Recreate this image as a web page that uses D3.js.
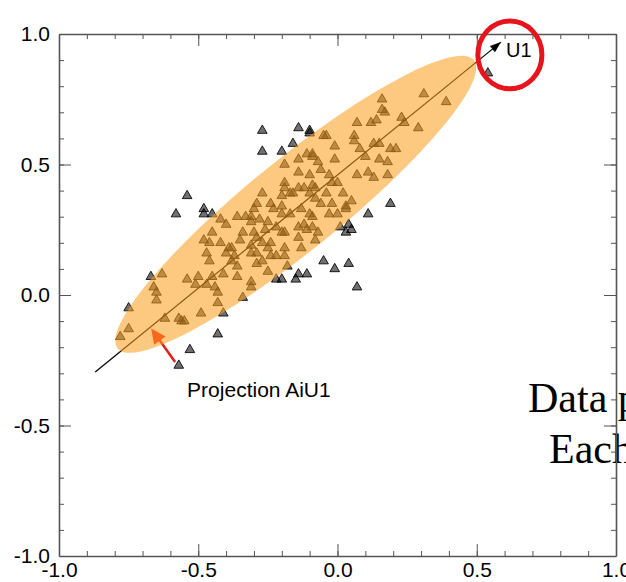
<!DOCTYPE html>
<html>
<head>
<meta charset="utf-8">
<script src="https://cdn.jsdelivr.net/npm/d3@7"></script>
<style>
  body { margin: 0; background: #fff; }
  svg { display: block; }
</style>
</head>
<body>
<div id="chart"></div>
<script>
// sample points (x, y)
const pointX = [
  -0.54, -0.58, -0.48, -0.45, -0.48, -0.42, -0.40, -0.36, -0.33, -0.31,
  -0.31, -0.30, -0.45, -0.34, -0.30, -0.48, -0.46, -0.42, -0.39, -0.38,
  -0.35, -0.31, -0.47, -0.40, -0.37, -0.31, -0.46, -0.38, -0.36, -0.41,
  -0.31, -0.67, -0.63, -0.54, -0.50, -0.45, -0.36, -0.66, -0.51, -0.47,
  -0.44, -0.29, -0.27, -0.25, -0.22, -0.20, -0.15, -0.14, -0.18, -0.65,
  -0.65, -0.75, -0.75, -0.78, -0.62, -0.57, -0.56, -0.55, -0.49, -0.43,
  -0.43, -0.31, -0.34, -0.41, -0.43, -0.53, -0.57, -0.27, -0.14, -0.10,
  -0.27, -0.20, 0.19, 0.11, 0.04, 0.01, 0.03, 0.05, -0.05, 0.31,
  0.39, 0.16, 0.16, 0.17, 0.14, 0.12, 0.07, 0.23, 0.24, 0.29,
  0.06, 0.06, -0.05, -0.04, -0.10, -0.16, -0.01, 0.08, 0.13, 0.15,
  0.19, 0.21, -0.11, -0.09, -0.09, -0.14, -0.01, 0.10, 0.15, 0.18,
  -0.19, -0.07, -0.06, -0.14, -0.10, -0.03, 0.07, 0.11, 0.13, 0.18,
  -0.19, -0.19, -0.14, -0.12, -0.09, -0.08, -0.02, 0.00, -0.27, -0.24,
  -0.29, -0.20, -0.17, -0.16, -0.10, -0.04, 0.02, -0.08, -0.06, -0.02,
  0.03, 0.03, 0.05, -0.03, 0.00, -0.13, -0.10, -0.09, -0.17, -0.23,
  -0.28, -0.25, -0.14, -0.12, -0.11, -0.09, -0.07, -0.22, -0.20, -0.19,
  -0.29, -0.26, -0.14, -0.08, -0.25, -0.19, -0.13, -0.29, -0.22, -0.24,
  -0.27, -0.24, -0.19, -0.20, -0.20, -0.11, -0.01, 0.04, 0.07, 0.54
]
const pointY = [
  0.38, 0.31, 0.33, 0.31, 0.31, 0.29, 0.27, 0.30, 0.30, 0.30,
  0.28, 0.33, 0.24, 0.24, 0.24, 0.21, 0.20, 0.20, 0.18, 0.18,
  0.21, 0.19, 0.16, 0.16, 0.15, 0.16, 0.13, 0.13, 0.11, 0.08,
  0.05, 0.07, 0.08, 0.06, 0.07, 0.07, 0.07, 0.03, 0.04, 0.04,
  0.03, 0.12, 0.13, 0.09, 0.06, 0.06, 0.06, 0.08, 0.11, 0.01,
  -0.02, -0.05, -0.13, -0.16, -0.09, -0.09, -0.10, -0.10, -0.07, 0.01,
  -0.03, 0.03, -0.01, -0.07, -0.15, -0.21, -0.27, 0.63, 0.64, 0.63,
  0.55, 0.55, 0.35, 0.31, 0.27, 0.26, 0.24, 0.25, 0.13, 0.77,
  0.74, 0.75, 0.71, 0.70, 0.67, 0.66, 0.66, 0.68, 0.66, 0.64,
  0.61, 0.59, 0.61, 0.61, 0.62, 0.58, 0.57, 0.56, 0.58, 0.58,
  0.56, 0.56, 0.54, 0.54, 0.53, 0.52, 0.52, 0.53, 0.52, 0.51,
  0.50, 0.51, 0.48, 0.47, 0.46, 0.46, 0.46, 0.47, 0.45, 0.46,
  0.43, 0.41, 0.41, 0.41, 0.42, 0.41, 0.43, 0.43, 0.39, 0.35,
  0.35, 0.34, 0.39, 0.39, 0.39, 0.39, 0.39, 0.37, 0.35, 0.35,
  0.34, 0.33, 0.36, 0.31, 0.31, 0.33, 0.31, 0.30, 0.31, 0.33,
  0.29, 0.28, 0.26, 0.27, 0.25, 0.26, 0.24, 0.26, 0.24, 0.24,
  0.22, 0.25, 0.22, 0.21, 0.18, 0.18, 0.18, 0.16, 0.15, 0.20,
  0.20, 0.15, 0.15, 0.38, 0.31, 0.08, 0.10, 0.12, 0.03, 0.85
]

const majorTicks = [-1.0, -0.5, 0.0, 0.5, 1.0]
const minorTicks = d3.range(-10, 11).map(d => d / 10)

// first principal direction: start and arrow tip
const u1Line = [[-0.87, -0.295], [0.587, 0.969]]
// ends of the ellipse's long axis, and short/long ratio
const ellipseEnds = [[-0.79, -0.205], [0.49, 0.9]]
const ellipseRatio = 0.2
// red arrow: tail (at the sample) and tip (on U1)
const projectionArrow = [[-0.583, -0.257], [-0.669, -0.128]]

const width = 626
const height = 582
const margin = { top: 34, right: 10, bottom: 26, left: 59 }

const svg = d3.select('#chart')
  .append('svg')
  .attr('width', width)
  .attr('height', height)
  .style('font-family', '"Liberation Sans", Arial, Helvetica, sans-serif')

const x = d3.scaleLinear().domain([-1, 1]).range([margin.left, width - margin.right])
const y = d3.scaleLinear().domain([-1, 1]).range([height - margin.bottom, margin.top])

// slide text that runs off the right edge
svg.append('g')
  .style('font-family', '"Liberation Serif", "Times New Roman", serif')
  .style('font-size', '42px')
  .selectAll('text')
  .data(['Data points', 'Each point'])
  .enter()
  .append('text')
  .attr('x', (d, i) => i === 0 ? 528 : 549)
  .attr('y', (d, i) => 412 + i * 51)
  .text(d => d)

const points = pointX.map((v, i) => [v, pointY[i]])

// triangles
svg.append('g')
  .selectAll('path')
  .data(points)
  .enter()
  .append('path')
  .attr('transform', d => `translate(${x(d[0])},${y(d[1])})`)
  .attr('d', d3.symbol(d3.symbolTriangle, 40))
  .attr('fill', 'rgba(0,0,0,0.56)')
  .attr('stroke', 'rgba(0,0,0,0.85)')
  .attr('stroke-width', 1)

function arrowHead (from, to, len, half) {
  const dx = to[0] - from[0]
  const dy = to[1] - from[1]
  const n = Math.hypot(dx, dy)
  const ux = dx / n
  const uy = dy / n
  const bx = to[0] - ux * len
  const by = to[1] - uy * len
  return `M${to[0]},${to[1]}L${bx - uy * half},${by + ux * half}L${bx + uy * half},${by - ux * half}Z`
}

// U1 line with arrow
const u1Px = u1Line.map(d => [x(d[0]), y(d[1])])
svg.append('line')
  .attr('x1', u1Px[0][0]).attr('y1', u1Px[0][1])
  .attr('x2', u1Px[1][0]).attr('y2', u1Px[1][1])
  .attr('stroke', '#000')
  .attr('stroke-width', 1.2)
svg.append('path')
  .attr('d', arrowHead(u1Px[0], u1Px[1], 11, 4))
  .attr('fill', '#000')

// red projection arrow
const prPx = projectionArrow.map(d => [x(d[0]), y(d[1])])
svg.append('line')
  .attr('x1', prPx[0][0]).attr('y1', prPx[0][1])
  .attr('x2', prPx[1][0] + (prPx[0][0] - prPx[1][0]) * 0.3)
  .attr('y2', prPx[1][1] + (prPx[0][1] - prPx[1][1]) * 0.3)
  .attr('stroke', '#e0201c')
  .attr('stroke-width', 2.5)
svg.append('path')
  .attr('d', arrowHead(prPx[0], prPx[1], 15, 7))
  .attr('fill', '#f0201a')

// translucent orange ellipse on top
const e0 = [x(ellipseEnds[0][0]), y(ellipseEnds[0][1])]
const e1 = [x(ellipseEnds[1][0]), y(ellipseEnds[1][1])]
const rx = Math.hypot(e1[0] - e0[0], e1[1] - e0[1]) / 2
const angle = Math.atan2(e1[1] - e0[1], e1[0] - e0[0]) * 180 / Math.PI
svg.append('ellipse')
  .attr('transform', `translate(${(e0[0] + e1[0]) / 2},${(e0[1] + e1[1]) / 2}) rotate(${angle})`)
  .attr('rx', rx)
  .attr('ry', rx * ellipseRatio)
  .attr('fill', 'rgb(252,158,30)')
  .attr('fill-opacity', 0.57)

// axes: major + minor ticks on all four sides, pointing inward
const axisColor = '#555'
const fmt = d => d3.format('.1f')(d).replace('−', '-')
function drawAxis (axisFn, translate, withLabels) {
  const scale = axisFn === d3.axisBottom || axisFn === d3.axisTop ? x : y
  const minor = svg.append('g')
    .attr('transform', translate)
    .call(axisFn(scale)
      .tickValues(minorTicks).tickSize(-5).tickSizeOuter(0).tickFormat(''))
  minor.select('.domain').attr('stroke', axisColor).attr('stroke-width', 1.6)
  minor.selectAll('.tick line').attr('stroke', axisColor).attr('stroke-width', 1)

  const major = svg.append('g')
    .attr('transform', translate)
    .call(axisFn(scale)
      .tickValues(majorTicks).tickSize(-12).tickSizeOuter(0)
      .tickPadding(axisFn === d3.axisLeft ? 9 : 6)
      .tickFormat(withLabels ? fmt : ''))
  major.select('.domain').remove()
  major.selectAll('.tick line').attr('stroke', axisColor).attr('stroke-width', 1)
  major.selectAll('text')
    .attr('fill', '#000')
    .style('font-size', '21px')
    .style('font-family', '"Liberation Sans", Arial, Helvetica, sans-serif')
}
drawAxis(d3.axisBottom, `translate(0,${y(-1)})`, true)
drawAxis(d3.axisTop, `translate(0,${y(1)})`, false)
drawAxis(d3.axisLeft, `translate(${x(-1)},0)`, true)
drawAxis(d3.axisRight, `translate(${x(1)},0)`, false)

// labels
svg.append('text')
  .attr('x', x(0.605))
  .attr('y', y(0.912))
  .style('font-size', '20px')
  .text('U1')

svg.append('text')
  .attr('x', x(-0.54))
  .attr('y', y(-0.39))
  .style('font-size', '21px')
  .text('Projection AiU1')

// red circle round U1
svg.append('ellipse')
  .attr('cx', x(0.619))
  .attr('cy', y(0.92))
  .attr('rx', x(0.619) - x(0.504))
  .attr('ry', y(0.92) - y(1.05))
  .attr('fill', 'none')
  .attr('stroke', '#e8141c')
  .attr('stroke-width', 5)
</script>
</body>
</html>
